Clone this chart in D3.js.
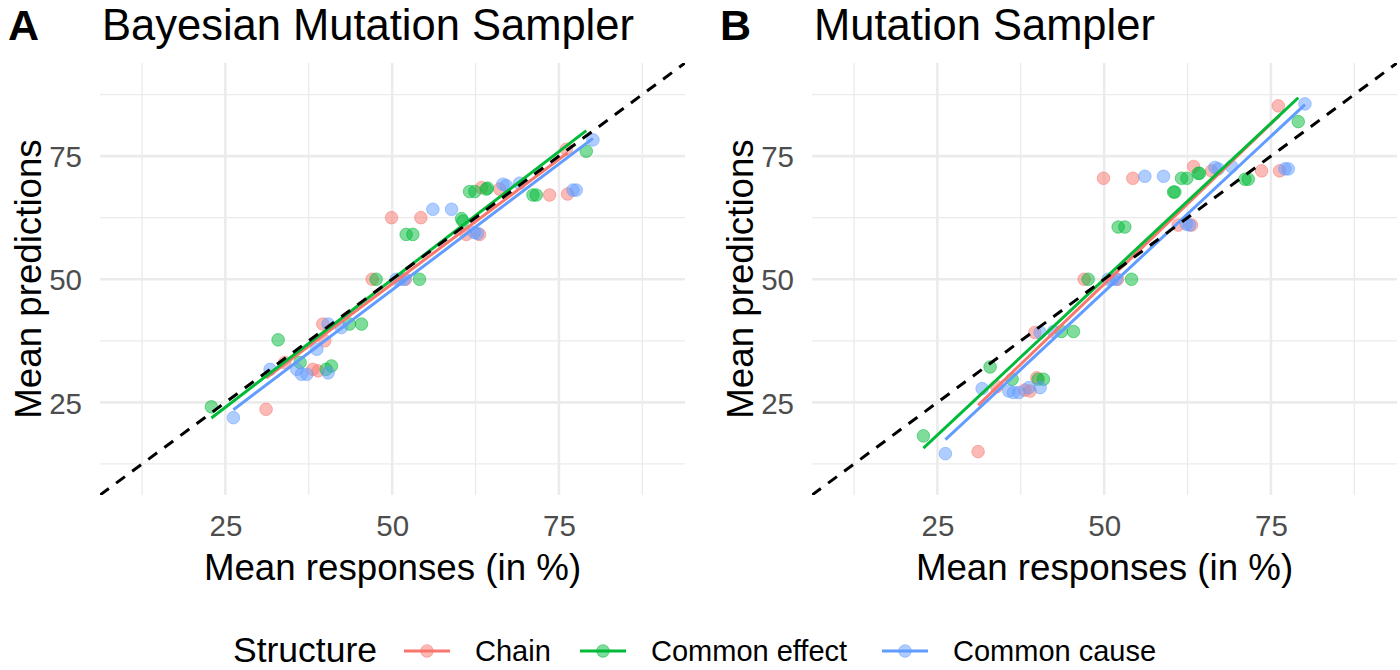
<!DOCTYPE html>
<html><head><meta charset="utf-8">
<script src="https://cdn.jsdelivr.net/npm/d3@7"></script>
<style>
html,body{margin:0;padding:0;background:#fff;}
svg{display:block;font-family:"Liberation Sans",Arial,sans-serif;}
</style></head>
<body>
<svg id="chart" width="1400" height="670"></svg>
<script>
// ---- data ----
const structures = ["Chain", "Common effect", "Common cause"];
const colors = ["#F8766D", "#00BA38", "#619CFF"];
const panelLetters = ["A", "B"];
const panelTitles = ["Bayesian Mutation Sampler", "Mutation Sampler"];
const tickValues = [25, 50, 75];
const minorValues = [12.5, 37.5, 62.5, 87.5];

// mean responses (x) per structure
const chainX  = [31.1, 33.9, 38.1, 38.9, 39.6, 39.9, 47.0, 49.9, 52.0, 54.3, 61.1, 63.1, 63.4, 66.1, 73.6, 76.1, 76.3];
const chainA  = [23.6, 33.1, 31.7, 31.4, 40.9, 37.5, 50.0, 62.5, 50.0, 62.5, 59.1, 59.1, 68.6, 68.3, 67.1, 76.4, 67.3];
const chainB  = [15.0, 28.2, 27.5, 27.3, 39.2, 30.0, 50.0, 70.5, 50.0, 70.5, 61.0, 61.0, 72.9, 72.0, 72.0, 85.2, 72.0];

const effectX = [22.9, 32.9, 36.2, 40.1, 40.9, 43.6, 45.4, 47.6, 52.1, 53.1, 54.1, 60.4, 60.6, 61.6, 62.4, 64.1, 64.3, 71.1, 71.6, 79.1];
const effectA = [24.1, 37.7, 33.1, 31.7, 32.4, 40.9, 40.9, 50.0, 59.1, 59.1, 50.0, 62.3, 61.8, 67.8, 67.8, 68.3, 68.5, 67.1, 67.1, 76.0];
const effectB = [18.2, 32.2, 29.7, 29.7, 29.7, 39.4, 39.4, 50.0, 60.6, 60.6, 50.0, 67.7, 67.7, 70.5, 70.5, 71.5, 71.5, 70.3, 70.3, 82.0];

const causeX  = [26.2, 31.7, 35.7, 36.4, 37.2, 38.7, 40.4, 40.4, 42.4, 50.6, 51.2, 51.8, 56.1, 58.9, 62.3, 62.8, 66.6, 67.1, 69.1, 77.1, 77.6, 80.1];
const causeA  = [21.9, 31.7, 31.7, 30.7, 30.7, 35.8, 40.9, 31.0, 40.2, 50.0, 50.0, 50.0, 64.2, 64.2, 59.5, 59.3, 69.3, 69.0, 69.5, 68.1, 68.1, 78.3];
const causeB  = [14.6, 27.8, 27.3, 27.0, 27.0, 28.0, 39.2, 28.0, 39.4, 50.0, 50.0, 50.0, 70.9, 70.9, 61.2, 61.0, 72.7, 72.4, 72.9, 72.4, 72.4, 85.6];

const xs = [chainX, effectX, causeX];
const predA = [chainA, effectA, causeA];
const predB = [chainB, effectB, causeB];
const panelPreds = [predA, predB];

// ---- layout ----
const svg = d3.select("#chart");
const domain = [6.2, 93.9];
const panelLefts = [100, 812];
const panelW = 585, pTop = 63, pBottom = 495;
const font = '"Liberation Sans", Arial, sans-serif';

const y = d3.scaleLinear().domain(domain).range([pBottom, pTop]);

function linfit(xv, yv) {
  const mx = d3.mean(xv), my = d3.mean(yv);
  let sxy = 0, sxx = 0;
  xv.forEach((v, i) => { sxy += (v - mx) * (yv[i] - my); sxx += (v - mx) * (v - mx); });
  const b = sxy / sxx;
  return { a: my - b * mx, b };
}

panelLefts.forEach((left, p) => {
  const x = d3.scaleLinear().domain(domain).range([left, left + panelW]);
  const g = svg.append("g");
  const clipId = "clip" + p;
  svg.append("clipPath").attr("id", clipId).append("rect")
    .attr("x", left).attr("y", pTop).attr("width", panelW).attr("height", pBottom - pTop);

  // grid
  g.selectAll(".vmin").data(minorValues).join("line")
    .attr("x1", d => x(d)).attr("x2", d => x(d)).attr("y1", pTop).attr("y2", pBottom)
    .attr("stroke", "#EBEBEB").attr("stroke-width", 1.3);
  g.selectAll(".hmin").data(minorValues).join("line")
    .attr("y1", d => y(d)).attr("y2", d => y(d)).attr("x1", left).attr("x2", left + panelW)
    .attr("stroke", "#EBEBEB").attr("stroke-width", 1.3);
  g.selectAll(".vmaj").data(tickValues).join("line")
    .attr("x1", d => x(d)).attr("x2", d => x(d)).attr("y1", pTop).attr("y2", pBottom)
    .attr("stroke", "#EBEBEB").attr("stroke-width", 2.6);
  g.selectAll(".hmaj").data(tickValues).join("line")
    .attr("y1", d => y(d)).attr("y2", d => y(d)).attr("x1", left).attr("x2", left + panelW)
    .attr("stroke", "#EBEBEB").attr("stroke-width", 2.6);

  // axes
  const xAxis = d3.axisBottom(x).tickValues(tickValues).tickSize(0).tickPadding(0);
  const ax = svg.append("g").attr("transform", `translate(0,${pBottom + 41})`).call(xAxis);
  const yAxis = d3.axisLeft(y).tickValues(tickValues).tickSize(0).tickPadding(0);
  const ay = svg.append("g").attr("transform", `translate(${left - 18},0)`).call(yAxis);
  [ax, ay].forEach(a => {
    a.select(".domain").remove();
    a.selectAll("text").attr("font-size", 29.5).attr("fill", "#4D4D4D").attr("font-family", font);
  });
  ax.selectAll("text").attr("dy", 0);
  ay.selectAll("text").attr("dy", "0.36em");

  // points
  const pg = svg.append("g").attr("clip-path", `url(#${clipId})`);
  xs.forEach((xv, s) => {
    const yv = panelPreds[p][s];
    pg.selectAll(null).data(xv.map((v, i) => [v, yv[i]])).join("circle")
      .attr("cx", d => x(d[0])).attr("cy", d => y(d[1])).attr("r", 6.3)
      .attr("fill", colors[s]).attr("fill-opacity", 0.5)
      .attr("stroke", colors[s]).attr("stroke-opacity", 0.5).attr("stroke-width", 1);
  });
  // regression lines
  xs.forEach((xv, s) => {
    const yv = panelPreds[p][s];
    const f = linfit(xv, yv);
    const x0 = d3.min(xv), x1 = d3.max(xv);
    pg.append("line")
      .attr("x1", x(x0)).attr("y1", y(f.a + f.b * x0))
      .attr("x2", x(x1)).attr("y2", y(f.a + f.b * x1))
      .attr("stroke", colors[s]).attr("stroke-width", 3);
  });
  // identity line
  pg.append("line")
    .attr("x1", x(domain[0])).attr("y1", y(domain[0]))
    .attr("x2", x(domain[1])).attr("y2", y(domain[1]))
    .attr("stroke", "#000").attr("stroke-width", 3).attr("stroke-dasharray", "11,9");

  // titles
  svg.append("text").attr("x", left - 92).attr("y", 40).attr("font-size", 43).attr("font-weight", "bold")
    .attr("font-family", font).text(panelLetters[p]);
  svg.append("text").attr("x", left + 2).attr("y", 40).attr("font-size", 43.5)
    .attr("font-family", font).text(panelTitles[p]);
  svg.append("text").attr("x", left + panelW / 2).attr("y", 580).attr("text-anchor", "middle")
    .attr("font-size", 36.7).attr("font-family", font).text("Mean responses (in %)");
  svg.append("text").attr("transform", `translate(${left - 59},${(pTop + pBottom) / 2}) rotate(-90)`)
    .attr("text-anchor", "middle").attr("font-size", 36.7).attr("font-family", font).text("Mean predictions");
});

// legend
const lg = svg.append("g");
lg.append("text").attr("x", 233).attr("y", 662).attr("font-size", 35.5).attr("font-family", font).text("Structure");
const keyX = [404, 580, 882];
structures.forEach((s, i) => {
  lg.append("line").attr("x1", keyX[i]).attr("x2", keyX[i] + 46).attr("y1", 651).attr("y2", 651)
    .attr("stroke", colors[i]).attr("stroke-width", 3);
  lg.append("circle").attr("cx", keyX[i] + 23).attr("cy", 651).attr("r", 6.3)
    .attr("fill", colors[i]).attr("fill-opacity", 0.5).attr("stroke", colors[i]).attr("stroke-opacity", 0.5);
  lg.append("text").attr("x", keyX[i] + 71).attr("y", 661).attr("font-size", 29).attr("font-family", font).text(s);
});
</script>
</body></html>
